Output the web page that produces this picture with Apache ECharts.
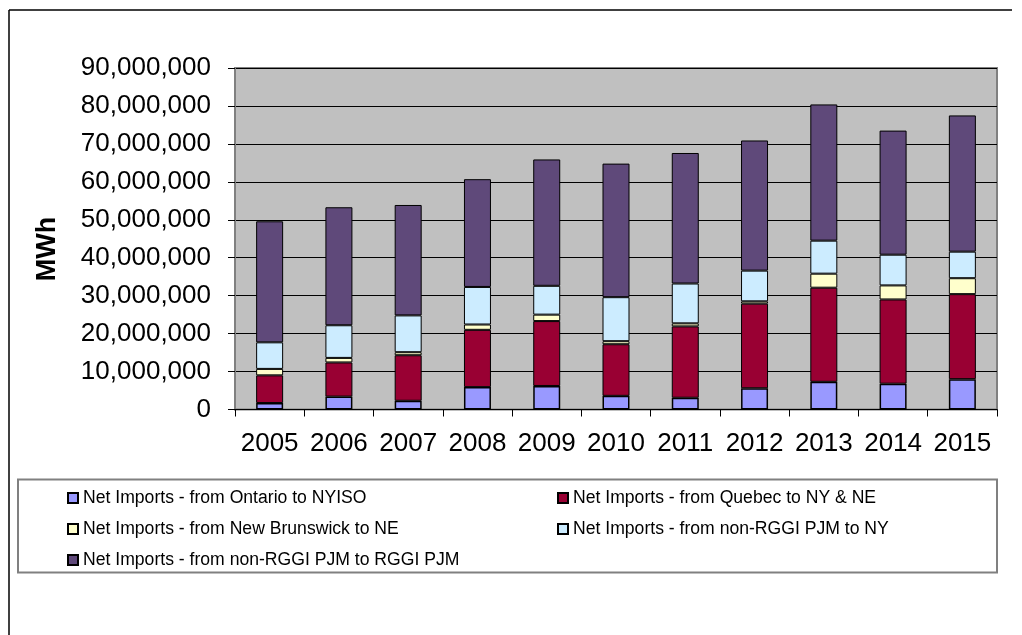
<!DOCTYPE html>
<html>
<head>
<meta charset="utf-8">
<script src="https://cdn.jsdelivr.net/npm/echarts@6/dist/echarts.min.js"></script>
<style>
  html, body { margin: 0; padding: 0; background: #fff; }
  #chart { width: 1022px; height: 635px; }
</style>
</head>
<body>
<div id="chart"></div>
<script>
// Years on the category axis
const years = ['2005', '2006', '2007', '2008', '2009', '2010', '2011', '2012', '2013', '2014', '2015'];

// Net imports by source, MWh per year
const ontarioToNyiso = [1700000, 3400000, 2300000, 5900000, 6200000, 3600000, 3100000, 5600000, 7300000, 6800000, 8000000];
const quebecToNyNe = [7300000, 9000000, 12000000, 15100000, 17100000, 13600000, 18800000, 22300000, 24800000, 22200000, 22400000];
const newBrunswickToNe = [1700000, 1200000, 800000, 1400000, 1700000, 800000, 800000, 600000, 3700000, 3700000, 4200000];
const nonRggiPjmToNy = [7000000, 8600000, 9700000, 9900000, 7600000, 11600000, 10500000, 8100000, 8700000, 8100000, 7000000];
const nonRggiPjmToRggiPjm = [31900000, 31100000, 29100000, 28400000, 33300000, 35200000, 34400000, 34300000, 35900000, 32700000, 35900000];

// Value axis range and step
const yMin = 0;
const yMax = 90000000;
const yStep = 10000000;

const seriesNames = [
  'Net Imports - from Ontario to NYISO',
  'Net Imports - from Quebec to NY & NE',
  'Net Imports - from New Brunswick to NE',
  'Net Imports - from non-RGGI PJM to NY',
  'Net Imports - from non-RGGI PJM to RGGI PJM'
];
const seriesData = [ontarioToNyiso, quebecToNyNe, newBrunswickToNe, nonRggiPjmToNy, nonRggiPjmToRggiPjm];
const seriesColors = ['#9999FF', '#990033', '#FFFFCC', '#CCECFF', '#5F497A'];

const FONT = '"Liberation Sans", Arial, sans-serif';

function withCommas(v) {
  return String(v).replace(/\B(?=(\d{3})+(?!\d))/g, ',');
}

const chart = echarts.init(document.getElementById('chart'), null, { renderer: 'canvas' });

const legendText = { fontFamily: FONT, fontSize: 17.6, color: '#000' };

chart.setOption({
  backgroundColor: '#ffffff',
  animation: false,
  grid: {
    left: 235,
    right: 25,
    top: 68,
    bottom: 225.5,
    show: true,
    backgroundColor: '#C0C0C0',
    borderColor: '#808080',
    borderWidth: 2
  },
  legend: [
    {
      orient: 'vertical',
      left: 62,
      top: 484,
      itemWidth: 10,
      itemHeight: 10,
      itemGap: 13,
      icon: 'rect',
      textStyle: legendText,
      data: [seriesNames[0], seriesNames[2], seriesNames[4]]
    },
    {
      orient: 'vertical',
      left: 552,
      top: 484,
      itemWidth: 10,
      itemHeight: 10,
      itemGap: 13,
      icon: 'rect',
      textStyle: legendText,
      data: [seriesNames[1], seriesNames[3]]
    }
  ],
  xAxis: {
    type: 'category',
    data: years,
    boundaryGap: true,
    axisLine: { show: true, lineStyle: { color: '#000', width: 1 } },
    axisTick: { show: true, length: 7, lineStyle: { color: '#000' } },
    axisLabel: { fontFamily: FONT, fontSize: 26, color: '#000', margin: 21, interval: 0 },
    splitLine: { show: false }
  },
  yAxis: {
    type: 'value',
    min: yMin,
    max: yMax,
    interval: yStep,
    axisLine: { show: true, lineStyle: { color: '#808080', width: 2 } },
    axisTick: { show: true, length: 7, lineStyle: { color: '#000' } },
    axisLabel: {
      fontFamily: FONT, fontSize: 26, color: '#000', margin: 24,
      padding: [4, 0, 0, 0],
      formatter: withCommas
    },
    splitLine: { show: true, lineStyle: { color: '#000', width: 1 } }
  },
  series: seriesData.map((d, i) => ({
    name: seriesNames[i],
    type: 'bar',
    stack: 'imports',
    barWidth: 27,
    data: d,
    itemStyle: {
      color: seriesColors[i],
      borderColor: '#000',
      borderWidth: i === 0 ? 1.5 : 1
    }
  })),
  graphic: [
    // outer frame (top and left edges)
    { type: 'line', shape: { x1: 9, y1: 10, x2: 1012, y2: 10 }, style: { stroke: '#000', lineWidth: 1.5 }, silent: true },
    { type: 'line', shape: { x1: 9, y1: 10, x2: 9, y2: 635 }, style: { stroke: '#000', lineWidth: 1.5 }, silent: true },
    // legend box
    { type: 'rect', shape: { x: 18, y: 479.5, width: 979, height: 93 }, style: { fill: 'none', stroke: '#808080', lineWidth: 2 }, silent: true, z: -1 },
    // value axis title
    {
      type: 'text',
      x: 48, y: 249,
      rotation: Math.PI / 2,
      style: {
        text: 'MWh',
        font: 'bold 27px ' + FONT,
        fill: '#000',
        align: 'center',
        verticalAlign: 'middle'
      },
      silent: true
    }
  ]
});
</script>
</body>
</html>
